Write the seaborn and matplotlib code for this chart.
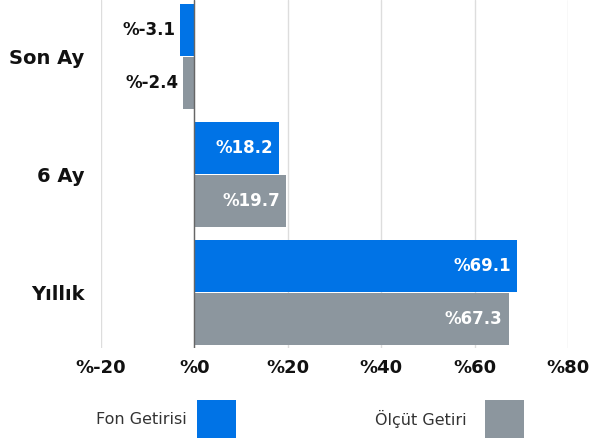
import matplotlib
matplotlib.use("Agg")
import matplotlib.pyplot as plt
from matplotlib.patches import Rectangle
import pandas as pd
import seaborn as sns

categories = ["Son Ay", "6 Ay", "Yıllık"]
fon_getirisi = [-3.1, 18.2, 69.1]
olcut_getiri = [-2.4, 19.7, 67.3]
series_names = ["Fon Getirisi", "Ölçüt Getiri"]
x_ticks = [-20, 0, 20, 40, 60, 80]

colors = ["#0073E6", "#8C969E"]

df = pd.DataFrame({
    "kategori": categories * 2,
    "deger": fon_getirisi + olcut_getiri,
    "seri": [series_names[0]] * 3 + [series_names[1]] * 3,
})

sns.set_style("white")
plt.rcParams["font.family"] = ["DejaVu Sans"]

W, H = 593, 438
fig = plt.figure(figsize=(W / 100, H / 100), dpi=100)
ax = fig.add_axes([101 / W, 90 / H, 467 / W, 348 / H])

sns.barplot(data=df, y="kategori", x="deger", hue="seri", orient="h",
            palette=colors, order=categories, hue_order=series_names,
            width=0.907, gap=0.03, saturation=1, linewidth=0,
            ax=ax, legend=False)

ax.set_xlim(-20, 80)
ax.set_ylim(2.47, -0.48)
ax.set_xticks(x_ticks)
ax.set_xticklabels(["%" + str(t) for t in x_ticks], fontsize=13,
                   fontweight="bold", color="#111111")
ax.tick_params(axis="x", length=0, pad=8)
ax.tick_params(axis="y", length=0, pad=12)
for lab in ax.get_yticklabels():
    lab.set_fontsize(14)
    lab.set_fontweight("bold")
    lab.set_color("#111111")
ax.set_xlabel("")
ax.set_ylabel("")
for s in ax.spines.values():
    s.set_visible(False)
ax.grid(axis="x", color="#dddddd", linewidth=1)
ax.set_axisbelow(True)
ax.axvline(0, color="#666666", linewidth=1, zorder=1)

for container in ax.containers:
    for bar in container:
        w = bar.get_width()
        yc = bar.get_y() + bar.get_height() / 2
        txt = "%" + f"{w:.1f}"
        if w >= 0:
            ax.annotate(txt, (w, yc), xytext=(-4.5, 0), textcoords="offset points",
                        ha="right", va="center", color="white",
                        fontsize=12, fontweight="bold")
        else:
            ax.annotate(txt, (w, yc), xytext=(-3.5, 0), textcoords="offset points",
                        ha="right", va="center", color="#111111",
                        fontsize=12, fontweight="bold")

# legend: label text, then colour square
legend_text_right = [187, 467]
legend_box_left = [197, 485]
for name, col, tx, bx in zip(series_names, colors, legend_text_right, legend_box_left):
    fig.text(tx / W, 1 - 419 / H, name, ha="right", va="center",
             fontsize=11.5, color="#333333")
    fig.add_artist(Rectangle((bx / W, 0), 39 / W, 38 / H,
                             transform=fig.transFigure, facecolor=col,
                             edgecolor="none"))

fig.savefig("out.png", dpi=100)
